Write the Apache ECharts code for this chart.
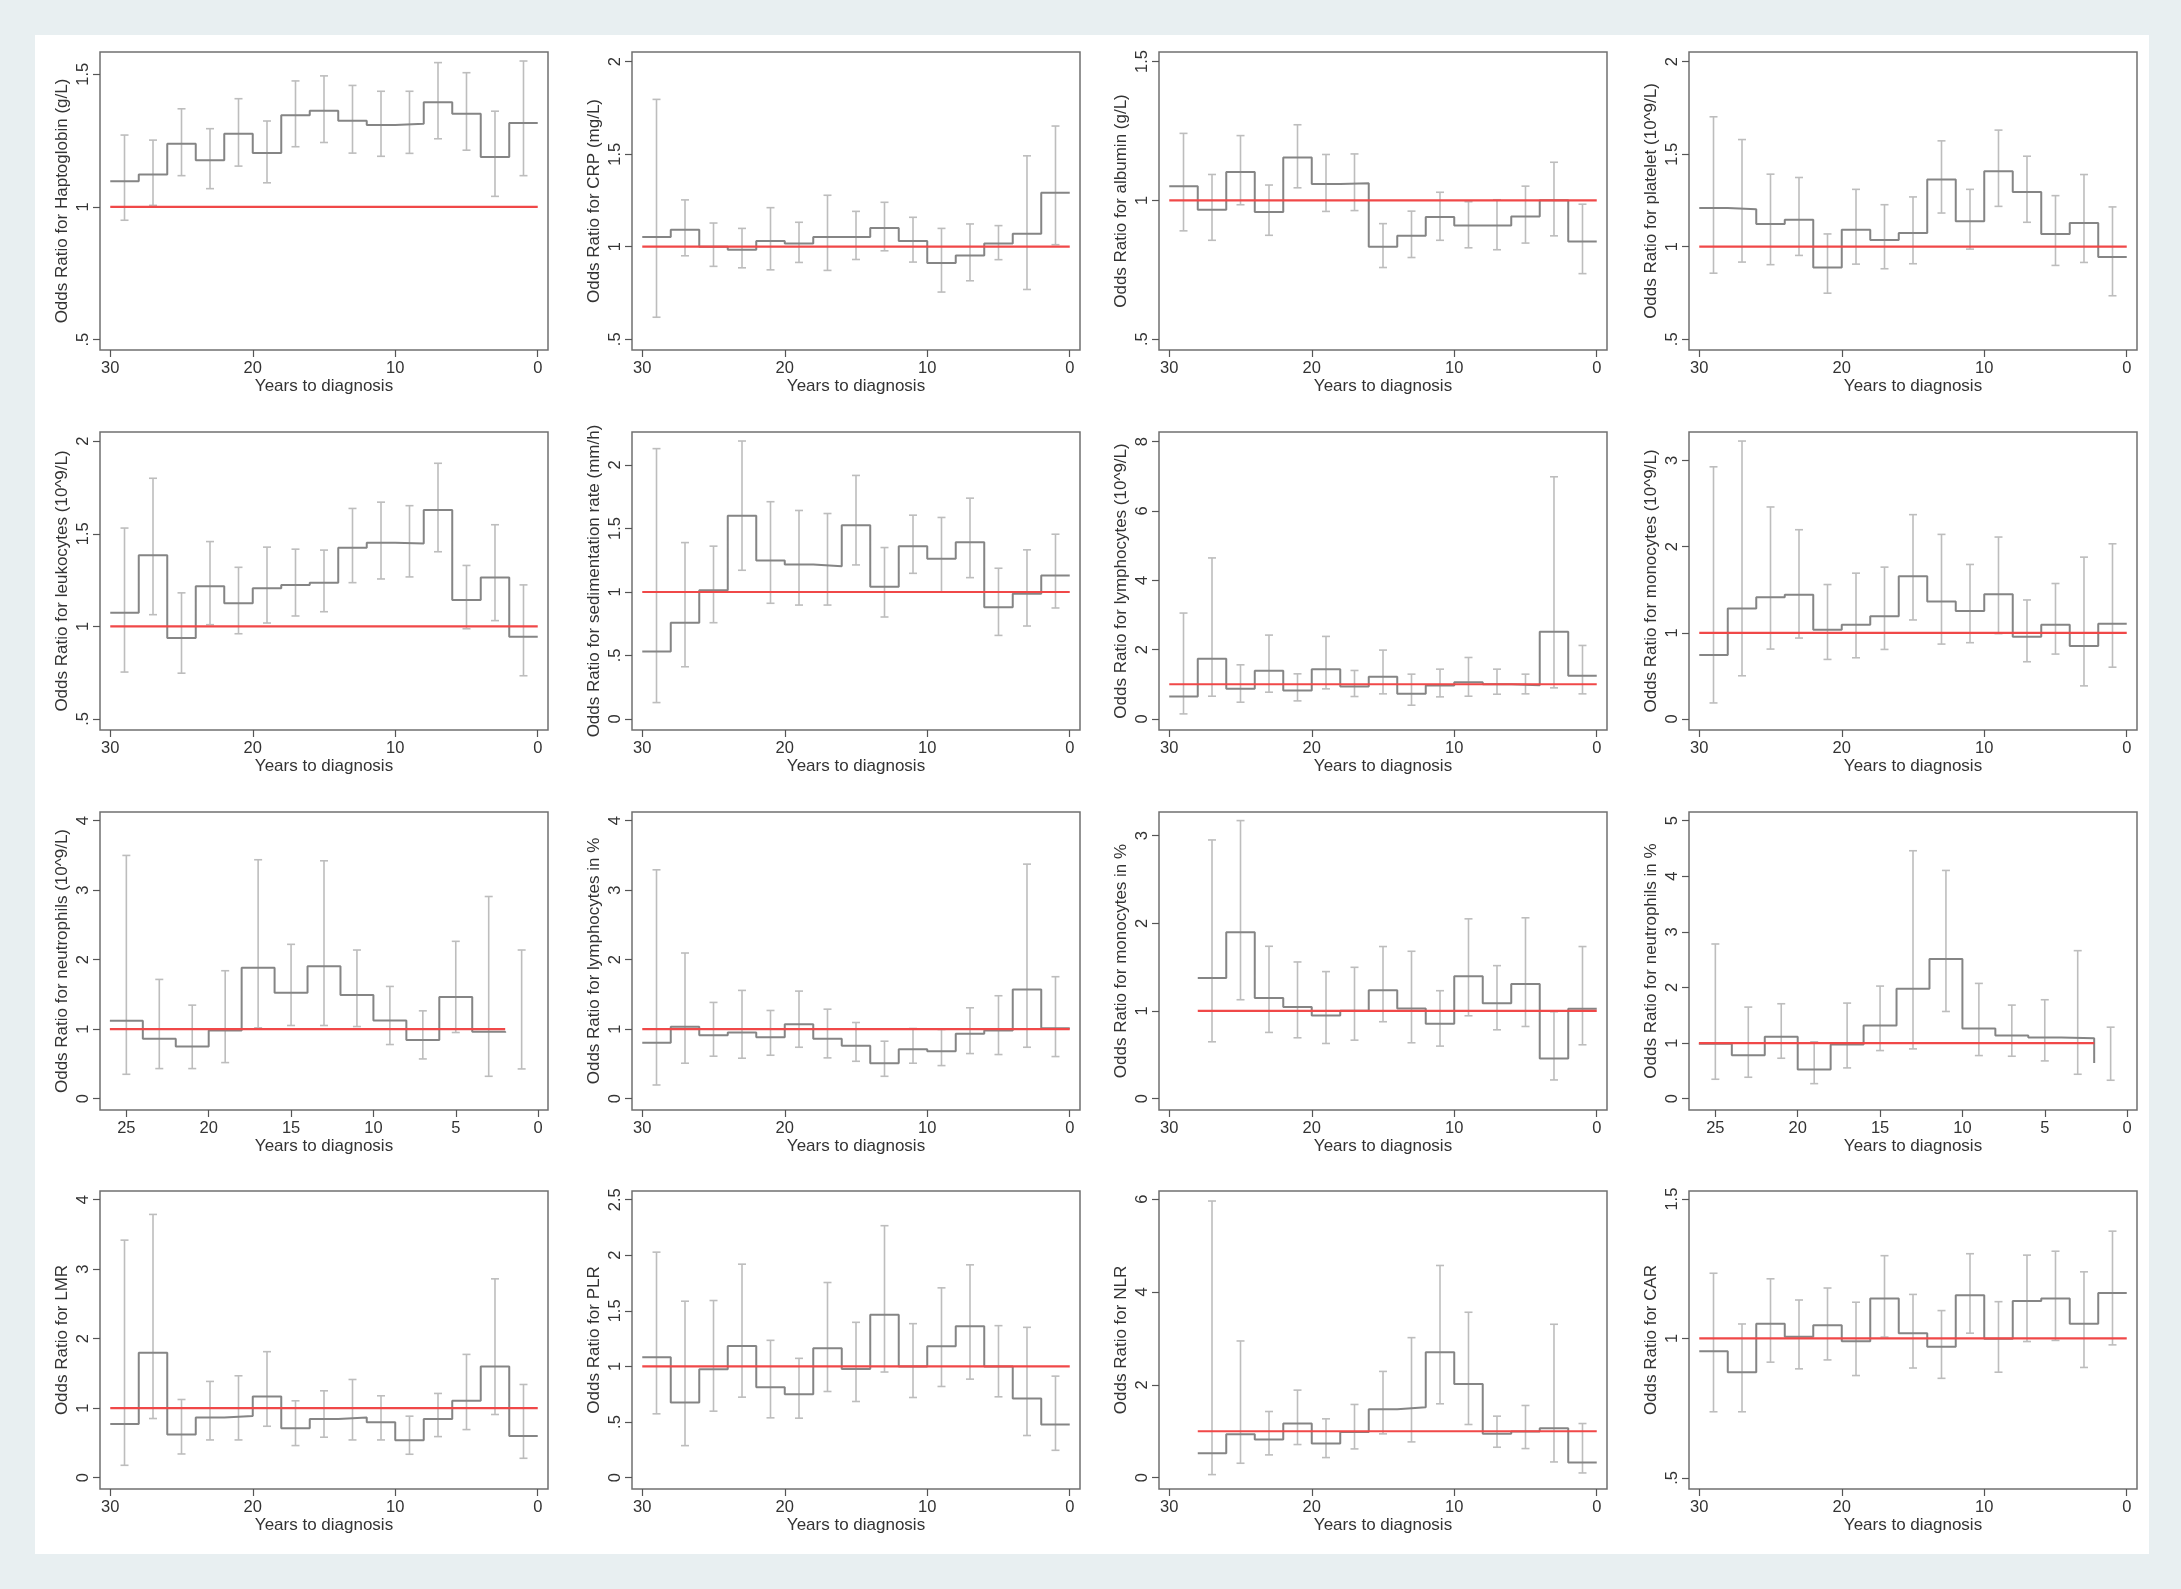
<!DOCTYPE html>
<html>
<head>
<meta charset="utf-8">
<script src="https://cdn.jsdelivr.net/npm/echarts@6/dist/echarts.min.js"></script>
<style>
html, body { margin: 0; padding: 0; background: #e8eff1; }
#sheet { position: absolute; left: 35px; top: 35px; width: 2114px; height: 1519px; background: #fff; }
#main { position: absolute; left: 0; top: 0; width: 2181px; height: 1589px; }
</style>
</head>
<body>
<div id="sheet"></div>
<div id="main"></div>
<script>
// y axis titles, one per panel (row by row)
var yTitles = [
    'Odds Ratio for Haptoglobin (g/L)', 'Odds Ratio for CRP (mg/L)',
    'Odds Ratio for albumin (g/L)', 'Odds Ratio for platelet (10^9/L)',
    'Odds Ratio for leukocytes (10^9/L)', 'Odds Ratio for sedimentation rate (mm/h)',
    'Odds Ratio for lymphocytes (10^9/L)', 'Odds Ratio for monocytes (10^9/L)',
    'Odds Ratio for neutrophils (10^9/L)', 'Odds Ratio for lymphocytes in %',
    'Odds Ratio for monocytes in %', 'Odds Ratio for neutrophils in %',
    'Odds Ratio for LMR', 'Odds Ratio for PLR', 'Odds Ratio for NLR', 'Odds Ratio for CAR'
];

// first year of the first 2-year bin
var binStart = [30, 30, 30, 30, 30, 30, 30, 30, 26, 30, 28, 26, 30, 30, 28, 30];
// does the step line carry the last bin on to year 0
var stepTail = [true, true, true, true, true, true, true, true, false, true, true, false, true, true, true, true];
// where the reference line at OR = 1 stops
var refEnd = [0, 0, 0, 0, 0, 0, 0, 0, 2, 0, 0, 2, 0, 0, 0, 0];

// odds ratios per bin
var oddsRatio = [
    [1.097, 1.122, 1.238, 1.176, 1.276, 1.203, 1.346, 1.363, 1.325, 1.309, 1.314, 1.395, 1.351, 1.188, 1.316],
    [1.052, 1.092, 1.0, 0.984, 1.031, 1.018, 1.052, 1.052, 1.101, 1.031, 0.912, 0.953, 1.018, 1.070, 1.291],
    [1.051, 0.966, 1.102, 0.958, 1.154, 1.059, 1.061, 0.833, 0.872, 0.940, 0.909, 0.909, 0.942, 1.0, 0.852],
    [1.209, 1.202, 1.123, 1.146, 0.888, 1.092, 1.036, 1.074, 1.363, 1.137, 1.408, 1.296, 1.069, 1.128, 0.944],
    [1.074, 1.384, 0.937, 1.217, 1.125, 1.206, 1.224, 1.236, 1.424, 1.451, 1.448, 1.628, 1.143, 1.264, 0.944],
    [0.532, 0.758, 1.013, 1.600, 1.247, 1.216, 1.203, 1.526, 1.042, 1.361, 1.261, 1.392, 0.879, 0.987, 1.129],
    [0.646, 1.735, 0.867, 1.388, 0.819, 1.436, 0.935, 1.214, 0.723, 0.964, 1.06, 1.0, 0.973, 2.516, 1.243],
    [0.741, 1.281, 1.413, 1.440, 1.036, 1.094, 1.191, 1.657, 1.362, 1.253, 1.447, 0.955, 1.094, 0.846, 1.106],
    [1.120, 0.861, 0.75, 0.981, 1.885, 1.524, 1.904, 1.490, 1.125, 0.846, 1.462, 0.962, 0.95],
    [0.803, 1.034, 0.913, 0.952, 0.885, 1.072, 0.861, 0.760, 0.510, 0.712, 0.683, 0.933, 0.981, 1.572, 1.014],
    [1.376, 1.899, 1.148, 1.045, 0.949, 1.003, 1.235, 1.029, 0.854, 1.395, 1.087, 1.308, 0.457, 1.026],
    [0.986, 0.781, 1.112, 0.523, 0.974, 1.316, 1.977, 2.512, 1.262, 1.136, 1.100, 1.088, 0.64],
    [0.774, 1.798, 0.620, 0.865, 0.889, 1.168, 0.712, 0.846, 0.865, 0.798, 0.538, 0.846, 1.106, 1.601, 0.601],
    [1.082, 0.676, 0.974, 1.184, 0.814, 0.751, 1.163, 0.977, 1.466, 1.0, 1.181, 1.361, 1.0, 0.712, 0.478],
    [0.526, 0.936, 0.821, 1.166, 0.734, 0.986, 1.476, 1.519, 2.700, 2.016, 0.943, 0.994, 1.066, 0.324],
    [0.954, 0.879, 1.053, 1.006, 1.047, 0.990, 1.143, 1.019, 0.970, 1.155, 0.999, 1.134, 1.143, 1.053, 1.163]
];

// lower 95% limits
var ciLow = [
    [0.95, 1.006, 1.118, 1.069, 1.154, 1.091, 1.227, 1.243, 1.203, 1.191, 1.202, 1.257, 1.214, 1.040, 1.118],
    [0.619, 0.951, 0.894, 0.886, 0.875, 0.915, 0.872, 0.931, 0.978, 0.917, 0.755, 0.816, 0.930, 0.769, 1.011],
    [0.890, 0.856, 0.984, 0.874, 1.045, 0.960, 0.963, 0.758, 0.794, 0.856, 0.829, 0.822, 0.846, 0.872, 0.736],
    [0.857, 0.917, 0.903, 0.953, 0.749, 0.906, 0.881, 0.908, 1.182, 0.987, 1.218, 1.132, 0.899, 0.915, 0.735],
    [0.753, 1.063, 0.747, 1.009, 0.960, 1.018, 1.056, 1.079, 1.236, 1.256, 1.267, 1.403, 0.987, 1.031, 0.733],
    [0.129, 0.411, 0.758, 1.171, 0.911, 0.897, 0.897, 1.213, 0.803, 1.147, 1.0, 1.113, 0.658, 0.732, 0.874],
    [0.145, 0.655, 0.482, 0.771, 0.520, 0.867, 0.646, 0.723, 0.395, 0.636, 0.655, 0.713, 0.723, 0.896, 0.723],
    [0.186, 0.501, 0.811, 0.939, 0.691, 0.710, 0.807, 1.149, 0.869, 0.885, 0.990, 0.664, 0.753, 0.384, 0.601],
    [0.351, 0.433, 0.433, 0.519, 1.019, 1.053, 1.053, 1.038, 0.779, 0.572, 0.952, 0.322, 0.428],
    [0.197, 0.510, 0.611, 0.582, 0.625, 0.740, 0.587, 0.538, 0.322, 0.510, 0.476, 0.649, 0.635, 0.740, 0.606],
    [0.648, 1.128, 0.755, 0.694, 0.629, 0.667, 0.877, 0.637, 0.599, 0.945, 0.785, 0.823, 0.213, 0.614],
    [0.349, 0.385, 0.727, 0.270, 0.553, 0.865, 0.895, 1.568, 0.775, 0.763, 0.679, 0.439, 0.331],
    [0.178, 0.851, 0.341, 0.543, 0.543, 0.740, 0.462, 0.582, 0.543, 0.543, 0.337, 0.591, 0.692, 0.909, 0.279],
    [0.574, 0.288, 0.598, 0.724, 0.538, 0.535, 0.775, 0.685, 0.950, 0.721, 0.820, 0.886, 0.727, 0.379, 0.246],
    [0.065, 0.310, 0.490, 0.713, 0.432, 0.619, 0.943, 0.770, 1.591, 1.145, 0.655, 0.626, 0.338, 0.101],
    [0.737, 0.737, 0.915, 0.891, 0.923, 0.867, 1.005, 0.894, 0.857, 1.019, 0.879, 0.989, 0.993, 0.896, 0.977]
];

// upper 95% limits
var ciHigh = [
    [1.271, 1.252, 1.370, 1.295, 1.408, 1.324, 1.475, 1.494, 1.458, 1.436, 1.436, 1.544, 1.506, 1.361, 1.550],
    [1.796, 1.253, 1.128, 1.099, 1.211, 1.132, 1.278, 1.191, 1.240, 1.159, 1.099, 1.123, 1.114, 1.491, 1.652],
    [1.241, 1.093, 1.233, 1.055, 1.272, 1.165, 1.167, 0.916, 0.961, 1.029, 0.995, 1.002, 1.051, 1.137, 0.986],
    [1.702, 1.579, 1.392, 1.374, 1.069, 1.310, 1.227, 1.269, 1.572, 1.310, 1.630, 1.489, 1.276, 1.390, 1.215],
    [1.531, 1.800, 1.181, 1.458, 1.319, 1.428, 1.417, 1.412, 1.637, 1.671, 1.652, 1.881, 1.329, 1.549, 1.224],
    [2.129, 1.389, 1.361, 2.189, 1.711, 1.642, 1.618, 1.918, 1.350, 1.605, 1.587, 1.739, 1.187, 1.332, 1.455],
    [3.055, 4.646, 1.561, 2.419, 1.301, 2.381, 1.398, 1.986, 1.292, 1.436, 1.773, 1.436, 1.292, 6.988, 2.12],
    [2.926, 3.225, 2.460, 2.196, 1.560, 1.692, 1.762, 2.371, 2.142, 1.793, 2.111, 1.381, 1.572, 1.878, 2.033],
    [3.5, 1.716, 1.346, 1.841, 3.438, 2.221, 3.423, 2.139, 1.615, 1.264, 2.264, 2.909, 2.139],
    [3.293, 2.096, 1.385, 1.558, 1.269, 1.548, 1.288, 1.096, 0.827, 1.010, 0.995, 1.308, 1.481, 3.375, 1.755],
    [2.951, 3.172, 1.738, 1.559, 1.449, 1.498, 1.735, 1.681, 1.231, 2.051, 1.517, 2.063, 0.991, 1.735],
    [2.782, 1.647, 1.707, 1.022, 1.719, 2.025, 4.459, 4.105, 2.073, 1.683, 1.779, 2.662, 1.286],
    [3.418, 3.788, 1.125, 1.385, 1.466, 1.813, 1.106, 1.25, 1.413, 1.178, 0.885, 1.212, 1.774, 2.861, 1.341],
    [2.028, 1.587, 1.593, 1.920, 1.235, 1.073, 1.755, 1.397, 2.266, 1.385, 1.707, 1.914, 1.367, 1.352, 0.913],
    [5.961, 2.945, 1.425, 1.886, 1.267, 1.577, 2.289, 3.017, 4.572, 3.564, 1.325, 1.555, 3.305, 1.166],
    [1.234, 1.052, 1.214, 1.138, 1.181, 1.130, 1.297, 1.158, 1.100, 1.304, 1.132, 1.299, 1.313, 1.239, 1.385]
];

// tick labels
var xTicks30 = [30, 20, 10, 0];
var xTicks25 = [25, 20, 15, 10, 5, 0];
var xTicks = [xTicks30, xTicks30, xTicks30, xTicks30, xTicks30, xTicks30, xTicks30, xTicks30,
              xTicks25, xTicks30, xTicks30, xTicks25, xTicks30, xTicks30, xTicks30, xTicks30];
var yTicks = [
    [0.5, 1, 1.5], [0.5, 1, 1.5, 2], [0.5, 1, 1.5], [0.5, 1, 1.5, 2],
    [0.5, 1, 1.5, 2], [0, 0.5, 1, 1.5, 2], [0, 2, 4, 6, 8], [0, 1, 2, 3],
    [0, 1, 2, 3, 4], [0, 1, 2, 3, 4], [0, 1, 2, 3], [0, 1, 2, 3, 4, 5],
    [0, 1, 2, 3, 4], [0, 0.5, 1, 1.5, 2, 2.5], [0, 2, 4, 6], [0.5, 1, 1.5]
];
// plot region extents (value at frame bottom / top)
var yRange = [
    [0.461, 1.584], [0.442, 2.052], [0.461, 1.534], [0.442, 2.052],
    [0.44, 2.05], [-0.087, 2.26], [-0.32, 8.28], [-0.128, 3.33],
    [-0.163, 4.125], [-0.163, 4.125], [-0.13, 3.27], [-0.204, 5.156],
    [-0.163, 4.125], [-0.102, 2.578], [-0.245, 6.177], [0.46, 1.529]
];

var colLeft = [100, 632, 1159, 1689];
var rowTop = [52, 432, 812, 1191];
var boxW = 448, boxH = 298;
var font = 'Liberation Sans, Arial, sans-serif';

var myChart = echarts.init(document.getElementById('main'));

function tickText(v) {
    return String(+(+v).toFixed(2)).replace(/^0\./, '.');
}

// vertical CI bar with small caps
function renderCI(params, api) {
    var x = api.value(0);
    var top = api.coord([x, api.value(2)]);
    var bot = api.coord([x, api.value(1)]);
    var st = { stroke: '#bdbdbd', lineWidth: 1.6 };
    return {
        type: 'group',
        children: [
            { type: 'line', shape: { x1: top[0], y1: top[1], x2: bot[0], y2: bot[1] }, style: st },
            { type: 'line', shape: { x1: top[0] - 4, y1: top[1], x2: top[0] + 4, y2: top[1] }, style: st },
            { type: 'line', shape: { x1: bot[0] - 4, y1: bot[1], x2: bot[0] + 4, y2: bot[1] }, style: st }
        ]
    };
}

var grids = [], xAxes = [], yAxes = [], series = [];

for (var k = 0; k < 16; k++) {
    var c = k % 4, r = Math.floor(k / 4);
    var start = binStart[k];
    var xMax = start === 26 ? 26.6 : 30.72;
    var xMin = start === 26 ? -0.6 : -0.72;

    grids.push({
        left: colLeft[c], top: rowTop[r], width: boxW, height: boxH,
        show: true, borderColor: '#707070', borderWidth: 1.5, backgroundColor: 'transparent'
    });

    xAxes.push({
        type: 'value', gridIndex: k, inverse: true, min: xMin, max: xMax,
        axisLine: { show: false, onZero: false },
        splitLine: { show: false },
        axisTick: { show: true, length: 7, lineStyle: { color: '#555', width: 1.2 }, customValues: xTicks[k] },
        axisLabel: { customValues: xTicks[k], fontSize: 16.5, color: '#333', margin: 10, fontFamily: font },
        name: 'Years to diagnosis', nameLocation: 'middle', nameGap: 27,
        nameTextStyle: { fontSize: 17, color: '#333', fontFamily: font }
    });

    yAxes.push({
        type: 'value', gridIndex: k, min: yRange[k][0], max: yRange[k][1],
        axisLine: { show: false, onZero: false },
        splitLine: { show: false },
        axisTick: { show: true, length: 7, lineStyle: { color: '#555', width: 1.2 }, customValues: yTicks[k] },
        axisLabel: { customValues: yTicks[k], rotate: 90, fontSize: 16.5, color: '#333', margin: 8,
                     fontFamily: font, formatter: tickText },
        name: yTitles[k], nameLocation: 'middle', nameGap: 29,
        nameTextStyle: { fontSize: 17, color: '#333', fontFamily: font }
    });

    var ors = oddsRatio[k];
    var steps = [], bars = [];
    for (var i = 0; i < ors.length; i++) {
        steps.push([start - 2 * i, ors[i]]);
        bars.push([start - 2 * i - 1, ciLow[k][i], ciHigh[k][i]]);
    }
    if (stepTail[k]) steps.push([start - 2 * ors.length, ors[ors.length - 1]]);

    series.push({
        type: 'custom', xAxisIndex: k, yAxisIndex: k, data: bars,
        encode: { x: 0, y: [1, 2] }, renderItem: renderCI, z: 2, silent: true
    });
    series.push({
        type: 'line', xAxisIndex: k, yAxisIndex: k, data: steps, step: 'end',
        symbol: 'none', lineStyle: { color: '#858585', width: 2 }, z: 3, silent: true
    });
    series.push({
        type: 'line', xAxisIndex: k, yAxisIndex: k, data: [[start, 1], [refEnd[k], 1]],
        symbol: 'none', lineStyle: { color: '#f04848', width: 2.2 }, z: 4, silent: true
    });
}

var option = {
    animation: false,
    grid: grids,
    xAxis: xAxes,
    yAxis: yAxes,
    series: series
};

myChart.setOption(option);
</script>
</body>
</html>
